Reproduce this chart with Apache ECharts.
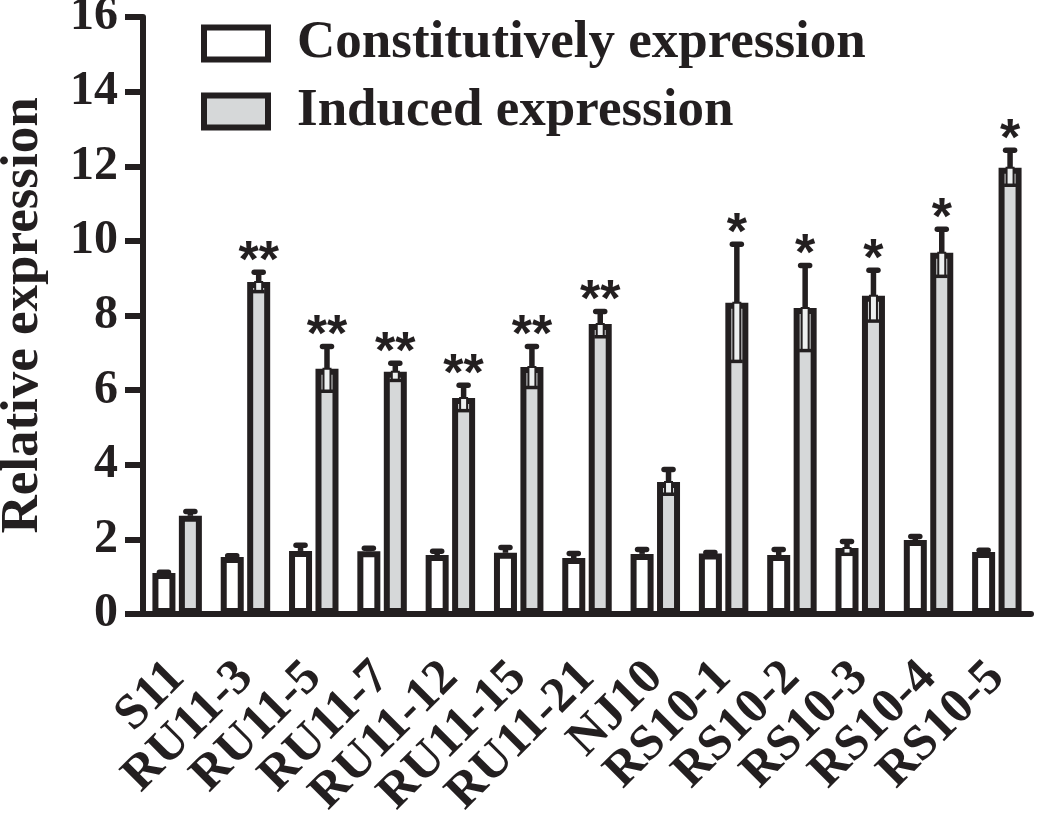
<!DOCTYPE html>
<html>
<head>
<meta charset="utf-8">
<script src="https://cdn.jsdelivr.net/npm/echarts@6/dist/echarts.min.js"></script>
<style>
  html, body { margin: 0; padding: 0; background: #fff; }
  #chart { width: 1050px; height: 815px; }
</style>
</head>
<body>
<div id="chart"></div>
<script>
const strains = ['S11', 'RU11-3', 'RU11-5', 'RU11-7', 'RU11-12', 'RU11-15', 'RU11-21',
  'NJ10', 'RS10-1', 'RS10-2', 'RS10-3', 'RS10-4', 'RS10-5'];
const constitutiveMean = [1.1, 1.53, 1.69, 1.68, 1.58, 1.64, 1.5, 1.61, 1.62, 1.58, 1.77, 1.98, 1.66];
const constitutiveErr = [0.02, 0.03, 0.15, 0.08, 0.1, 0.14, 0.12, 0.12, 0.03, 0.15, 0.17, 0.1, 0.05];
const inducedMean = [2.63, 8.9, 6.57, 6.49, 5.79, 6.62, 7.77, 3.54, 8.34, 8.2, 8.53, 9.68, 11.96];
const inducedErr = [0.12, 0.26, 0.6, 0.23, 0.34, 0.55, 0.34, 0.33, 1.57, 1.14, 0.68, 0.63, 0.47];
const significance = ['', '**', '**', '**', '**', '**', '**', '', '*', '*', '*', '*', '*'];
const yTicks = [0, 2, 4, 6, 8, 10, 12, 14, 16];

const INK = '#231f20';
const GRAY = '#d6d8d9';
const STROKE = 6;
const BAR_WIDTH = 23;
const BAR_GAP = 0.15;
const BAR_SHIFT = BAR_WIDTH * (1 + BAR_GAP) / 2;
const SERIF = '"Liberation Serif", "Times New Roman", serif';

const chart = echarts.init(document.getElementById('chart'), null, { renderer: 'canvas' });

function errorSeries(means, errs, side, marks) {
  return {
    type: 'custom',
    z: 5,
    silent: true,
    encode: { x: 0, y: 1 },
    data: means.map((m, i) => [i, m, errs[i]]),
    renderItem(params, api) {
      const i = api.value(0);
      const m = api.value(1);
      const e = api.value(2);
      const c = api.coord([i, m]);
      const x = c[0] + side * BAR_SHIFT;
      const y = c[1];
      const yTop = api.coord([i, m + e])[1];
      const yLow = api.coord([i, m - e])[1];
      const children = [];
      if (yLow - y > 6) {
        children.push({
          type: 'rect',
          shape: { x: x - 3.5, y: y, width: 7, height: yLow - y },
          style: { fill: '#eef0f0', stroke: INK, lineWidth: 2 },
        });
        children.push({
          type: 'line',
          shape: { x1: x - 6, y1: yLow, x2: x + 6, y2: yLow },
          style: { stroke: INK, lineWidth: 3.5 },
        });
      }
      children.push({
        type: 'line',
        shape: { x1: x, y1: y, x2: x, y2: yTop },
        style: { stroke: INK, lineWidth: 5.5 },
      });
      children.push({
        type: 'line',
        shape: { x1: x - 4.5, y1: yTop, x2: x + 4.5, y2: yTop },
        style: { stroke: INK, lineWidth: 5.5, lineCap: 'round' },
      });
      if (marks && marks[i]) {
        children.push({
          type: 'text',
          style: {
            text: marks[i],
            x: x,
            y: yTop - 10,
            align: 'center',
            verticalAlign: 'middle',
            font: 'bold 52px "Liberation Sans", Arial, sans-serif',
            fill: INK,
          },
        });
      }
      return { type: 'group', children };
    },
  };
}

chart.setOption({
  backgroundColor: '#fff',
  animation: false,
  grid: { left: 143, right: 19, top: 17, bottom: 201, outerBoundsMode: 'none' },
  legend: {
    data: ['Constitutively expression', 'Induced expression'],
    orient: 'vertical',
    left: 196,
    top: 12,
    icon: 'rect',
    itemWidth: 64,
    itemHeight: 32,
    itemGap: 15,
    itemStyle: { borderColor: INK, borderWidth: STROKE },
    textStyle: {
      fontFamily: SERIF,
      fontWeight: 'bold',
      fontSize: 53,
      color: INK,
      padding: [0, 0, 0, 24],
    },
  },
  xAxis: {
    type: 'category',
    data: strains,
    axisLine: { lineStyle: { color: INK, width: STROKE } },
    axisTick: { alignWithLabel: true, length: 18, lineStyle: { color: INK, width: STROKE } },
    axisLabel: {
      rotate: 45,
      interval: 0,
      margin: 56,
      fontFamily: SERIF,
      fontWeight: 'bold',
      fontSize: 50,
      color: INK,
    },
  },
  yAxis: {
    type: 'value',
    min: yTicks[0],
    max: yTicks[yTicks.length - 1],
    interval: 2,
    name: 'Relative expression',
    nameLocation: 'middle',
    nameGap: 93,
    nameTextStyle: { fontFamily: SERIF, fontWeight: 'bold', fontSize: 53, color: INK },
    axisLine: { show: true, lineStyle: { color: INK, width: STROKE } },
    axisTick: { show: true, length: 18, lineStyle: { color: INK, width: STROKE } },
    axisLabel: { margin: 25, fontFamily: SERIF, fontWeight: 'bold', fontSize: 48, color: INK },
    splitLine: { show: false },
  },
  series: [
    {
      name: 'Constitutively expression',
      type: 'bar',
      barWidth: BAR_WIDTH,
      barGap: BAR_GAP * 100 + '%',
      data: constitutiveMean,
      itemStyle: { color: '#fff', borderColor: INK, borderWidth: STROKE },
    },
    {
      name: 'Induced expression',
      type: 'bar',
      barWidth: BAR_WIDTH,
      barGap: BAR_GAP * 100 + '%',
      data: inducedMean,
      itemStyle: { color: GRAY, borderColor: INK, borderWidth: STROKE },
    },
    errorSeries(constitutiveMean, constitutiveErr, -1, null),
    errorSeries(inducedMean, inducedErr, 1, significance),
  ],
});
</script>
</body>
</html>
